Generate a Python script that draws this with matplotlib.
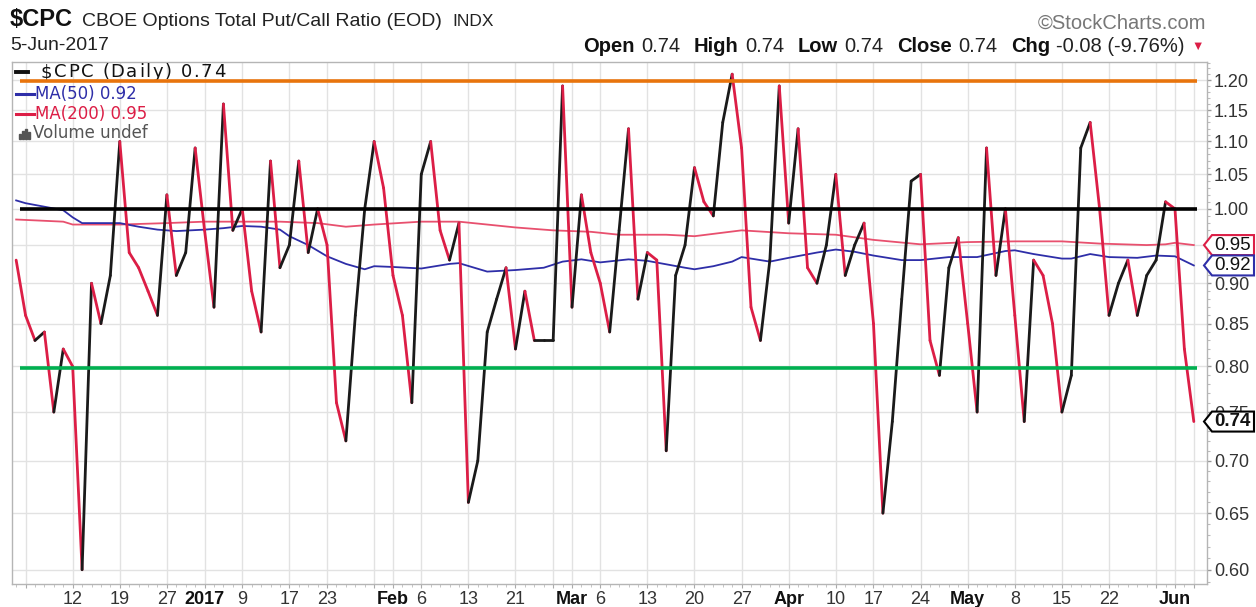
import numpy as np
import pandas as pd
import matplotlib
matplotlib.use('Agg')
import matplotlib.pyplot as plt
from matplotlib.collections import LineCollection
from matplotlib.patches import Polygon, Rectangle
from matplotlib.lines import Line2D
from matplotlib.ticker import FixedLocator, FuncFormatter, NullFormatter

plt.rcParams['font.family'] = ['Liberation Sans', 'DejaVu Sans']

# ---------------- data ----------------
holidays = ['2016-12-26', '2017-01-02', '2017-01-16', '2017-02-20', '2017-04-14', '2017-05-29']
dec_2016 = [0.93, 0.86, 0.83, 0.84, 0.75, 0.82, 0.80, 0.60, 0.90, 0.85, 0.91, 1.10, 0.94, 0.92,
            0.89, 0.86, 1.02, 0.91, 0.94, 1.09]
jan_2017 = [0.97, 0.87, 1.16, 0.97, 1.00, 0.89, 0.84, 1.07, 0.92, 0.95, 1.07, 0.94, 1.00, 0.95,
            0.76, 0.72, 0.86, 1.00, 1.10, 1.03]
feb_2017 = [0.91, 0.86, 0.76, 1.05, 1.10, 0.97, 0.93, 0.98, 0.66, 0.70, 0.84, 0.88, 0.92, 0.82,
            0.89, 0.83, 0.83, 0.83, 1.19]
mar_2017 = [0.87, 1.02, 0.94, 0.90, 0.84, 0.97, 1.12, 0.88, 0.94, 0.93, 0.71, 0.91, 0.95, 1.06,
            1.01, 0.99, 1.13, 1.21, 1.09, 0.87, 0.83, 0.93, 1.19]
apr_2017 = [0.98, 1.12, 0.92, 0.90, 0.95, 1.05, 0.91, 0.95, 0.98, 0.85, 0.65, 0.74, 0.88, 1.04,
            1.05, 0.83, 0.79, 0.92, 0.96]
may_2017 = [0.85, 0.75, 1.09, 0.91, 1.00, 0.86, 0.74, 0.93, 0.91, 0.85, 0.75, 0.79, 1.09, 1.13,
            1.00, 0.86, 0.90, 0.93, 0.86, 0.91, 0.93, 1.01]
jun_2017 = [1.00, 0.82, 0.74]

ma50_dates = ['12-02', '12-05', '12-07', '12-09', '12-12', '12-13', '12-16', '12-19', '12-21', '12-23',
              '12-28', '01-03', '01-05', '01-09', '01-11', '01-13', '01-17', '01-19', '01-23', '01-25',
              '01-27', '01-30', '02-01', '02-06', '02-09', '02-10', '02-15', '02-21', '02-24', '02-28',
              '03-02', '03-06', '03-09', '03-13', '03-17', '03-20', '03-22', '03-24', '03-27', '03-30',
              '04-03', '04-06', '04-10', '04-12', '04-17', '04-20', '04-24', '04-27', '05-02', '05-05',
              '05-08', '05-10', '05-15', '05-16', '05-18', '05-22', '05-25', '05-30', '06-01', '06-05']
ma50_values = [1.012, 1.008, 1.003, 0.998, 0.988, 0.980, 0.980, 0.980, 0.975, 0.971,
               0.969, 0.971, 0.973, 0.976, 0.975, 0.971, 0.962, 0.950, 0.935, 0.925,
               0.918, 0.922, 0.921, 0.919, 0.925, 0.926, 0.915, 0.917, 0.920, 0.928,
               0.931, 0.927, 0.931, 0.929, 0.920, 0.918, 0.922, 0.928, 0.934, 0.928,
               0.933, 0.940, 0.944, 0.941, 0.936, 0.930, 0.930, 0.934, 0.934, 0.942,
               0.943, 0.938, 0.932, 0.932, 0.938, 0.934, 0.933, 0.936, 0.935, 0.923]

ma200_dates = ['12-02', '12-09', '12-12', '12-19', '12-27', '01-03', '01-13', '01-20', '01-25', '01-30',
               '02-06', '02-10', '02-15', '02-21', '02-27', '03-03', '03-08', '03-15', '03-20', '03-27',
               '04-03', '04-10', '04-17', '04-24', '05-01', '05-08', '05-15', '05-19', '05-26', '05-31',
               '06-01', '06-05']
ma200_values = [0.985, 0.982, 0.978, 0.978, 0.980, 0.982, 0.982, 0.980, 0.975, 0.978,
                0.982, 0.982, 0.978, 0.974, 0.970, 0.968, 0.964, 0.964, 0.962, 0.970,
                0.966, 0.964, 0.957, 0.951, 0.954, 0.955, 0.955, 0.952, 0.950, 0.951,
                0.953, 0.950]

grid_dates = ['12-05', '12-12', '12-19', '12-27', '01-03', '01-09', '01-17', '01-23', '01-30', '02-01',
              '02-06', '02-13', '02-21', '02-27', '03-01', '03-06', '03-13', '03-20', '03-27', '04-03',
              '04-10', '04-17', '04-24', '05-01', '05-08', '05-15', '05-22', '05-30', '06-01', '06-05']
grid_labels = ['', '12', '19', '27', '2017', '9', '17', '23', '', 'Feb',
               '6', '13', '21', '', 'Mar', '6', '13', '20', '27', 'Apr',
               '10', '17', '24', 'May', '8', '15', '22', '', 'Jun', '']
bold_labels = ['2017', 'Feb', 'Mar', 'Apr', 'May', 'Jun']

y_ticks = [0.60, 0.65, 0.70, 0.75, 0.80, 0.85, 0.90, 0.95, 1.00, 1.05, 1.10, 1.15, 1.20]
ref_levels = [1.198, 1.0, 0.798]
ref_colors = ['#E8740C', '#000000', '#00B050']

# ---------------- helpers ----------------
W, H = 1256, 607
values = np.array(dec_2016 + jan_2017 + feb_2017 + mar_2017 + apr_2017 + may_2017 + jun_2017)
dates = [d for d in pd.bdate_range('2016-12-02', '2017-06-05') if d.strftime('%Y-%m-%d') not in holidays]
pos = {d.strftime('%m-%d'): i for i, d in enumerate(dates)}
x = np.arange(len(values))


def fx(px):
    return px / W


def fy(py):
    return 1 - py / H


RED = '#DC1E46'
BLUE = '#2E2EA8'
MA200C = '#E8506E'

fig = plt.figure(figsize=(W / 100, H / 100), dpi=100)
ax = fig.add_axes([fx(12), fy(584), fx(1207) - fx(12), fy(62) - fy(584)])
renderer = fig.canvas.get_renderer()

# grid
for gd in grid_dates:
    ax.axvline(pos[gd], color='#E2E2E2', lw=1.0, zorder=0)
for yv in y_ticks:
    ax.axhline(yv, color='#E2E2E2', lw=1.0, zorder=0)

# moving averages
ax.plot([pos[d] for d in ma200_dates], ma200_values, color=MA200C, lw=1.3, zorder=2)
ax.plot([pos[d] for d in ma50_dates], ma50_values, color=BLUE, lw=1.3, zorder=2)

# price line, coloured by direction
segs = np.stack([np.column_stack([x[:-1], values[:-1]]), np.column_stack([x[1:], values[1:]])], axis=1)
cols = ['#1A1A1A' if values[i + 1] >= values[i] else RED for i in range(len(values) - 1)]
lc = LineCollection(segs, colors=cols, linewidths=2.0, zorder=3, capstyle='round', joinstyle='round')
ax.add_collection(lc)

# reference lines
x0_ref = -0.44 + (20 - 12) / 9.42
x1_ref = -0.44 + (1197 - 12) / 9.42
for lvl, c in zip(ref_levels, ref_colors):
    ax.plot([x0_ref, x1_ref], [lvl, lvl], color=c, lw=2.6, zorder=4, solid_capstyle='butt')

ax.set_yscale('log')
ax.set_ylim(0.588, 1.231)
ax.set_xlim(-0.44, 126.4)

ax.yaxis.tick_right()
ax.yaxis.set_major_locator(FixedLocator(y_ticks))
ax.yaxis.set_major_formatter(FuncFormatter(lambda v, p: f'{v:.2f}'))
ax.yaxis.set_minor_locator(FixedLocator(np.arange(0.59, 1.235, 0.01)))
ax.yaxis.set_minor_formatter(NullFormatter())
ax.tick_params(axis='y', which='major', length=3, width=1, color='#999999', labelsize=13,
               labelcolor='#333333', pad=2)
ax.tick_params(axis='y', which='minor', length=2, width=0.8, color='#BBBBBB')

ax.set_xticks([pos[d] for d in grid_dates])
ax.set_xticklabels(grid_labels)
ax.xaxis.set_minor_locator(FixedLocator(x))
ax.tick_params(axis='x', which='major', length=3, color='#AAAAAA', labelsize=13, labelcolor='#333333', pad=2)
ax.tick_params(axis='x', which='minor', length=2, color='#BBBBBB')
for t in ax.get_xticklabels():
    if t.get_text() in bold_labels:
        t.set_fontweight('bold')
        t.set_color('#111111')

for s in ax.spines.values():
    s.set_color('#B5B5B5')
    s.set_linewidth(1.0)

# ---------------- header ----------------
fig.text(fx(10), fy(20), '$CPC', fontsize=17, fontweight='bold', color='#111111', va='center', ha='left')
fig.text(fx(82), fy(21), 'CBOE Options Total Put/Call Ratio (EOD)', fontsize=14, color='#222222',
         va='center', ha='left')
fig.text(fx(452), fy(21), 'INDX', fontsize=12.5, color='#222222', va='center', ha='left')
fig.text(fx(10), fy(46), '5-Jun-2017', fontsize=14, color='#222222', va='center', ha='left')
fig.text(fx(1206), fy(23), '\u00a9StockCharts.com', fontsize=14.5, color='#777777', va='center', ha='right')

parts = [('Open', 'bold', '#111111', 6, 14.5), ('0.74', 'normal', '#222222', 14, 14.5),
         ('High', 'bold', '#111111', 6, 14.5), ('0.74', 'normal', '#222222', 14, 14.5),
         ('Low', 'bold', '#111111', 6, 14.5), ('0.74', 'normal', '#222222', 14, 14.5),
         ('Close', 'bold', '#111111', 6, 14.5), ('0.74', 'normal', '#222222', 14, 14.5),
         ('Chg', 'bold', '#111111', 6, 14.5), ('-0.08 (-9.76%)', 'normal', '#222222', 7, 14.5),
         ('\u25bc', 'normal', RED, 0, 9)]
items = []
for s, w, c, gap, fs in parts:
    t = fig.text(0, fy(47), s, fontsize=fs, fontweight=w, color=c, va='center', ha='left')
    bb = t.get_window_extent(renderer)
    items.append((t, bb.width, gap))
total = sum(wd + g for _, wd, g in items)
xp = 1204 - total
for t, wd, g in items:
    t.set_x(fx(xp))
    xp += wd + g


# ---------------- legend (inside plot) ----------------
def spaced_text(s, x0, yy, fs, color, extra):
    xc = x0
    for ch in s:
        t = ax.text(fx(xc), fy(yy), ch, fontsize=fs, color=color, family=['DejaVu Sans'], va='center',
                    ha='left', transform=fig.transFigure, zorder=3.5)
        wd = t.get_window_extent(renderer).width if ch != ' ' else fs * 1.389 * 0.318
        xc += wd + extra


ax.add_line(Line2D([fx(16), fx(28)], [fy(72), fy(72)], color='#111111', lw=2.8,
                   transform=fig.transFigure, zorder=3.5, clip_on=False))
spaced_text('$CPC (Daily) 0.74', 41, 72, 13, '#111111', 1.6)

leg = [('MA(50) 0.92', BLUE, 94), ('MA(200) 0.95', RED, 114)]
for s, c, yy in leg:
    ax.add_line(Line2D([fx(16), fx(34)], [fy(yy), fy(yy)], color=c, lw=2.2, transform=fig.transFigure,
                       zorder=3.5, clip_on=False))
    ax.text(fx(35), fy(yy), s, fontsize=12, color=c, family=['DejaVu Sans'], va='center', ha='left',
            transform=fig.transFigure, zorder=3.5)
for i, hgt in enumerate([5, 8, 10, 7]):
    ax.add_patch(Rectangle((fx(19 + i * 3), fy(139)), fx(2), hgt / H, color='#555555',
                           transform=fig.transFigure, zorder=3.5, clip_on=False))
ax.text(fx(33), fy(133), 'Volume undef', fontsize=12, color='#555555', family=['DejaVu Sans'],
        va='center', ha='left', transform=fig.transFigure, zorder=3.5)

# ---------------- value tags ----------------
tags = [(ma200_values[-1], RED, 'normal'), (ma50_values[-1], BLUE, 'normal'), (values[-1], '#000000', 'bold')]
for v, c, w in tags:
    yd = ax.transData.transform((0, v))[1]
    yc = H - yd
    pts = [(1204, yc), (1212, yc - 10), (1254, yc - 10), (1254, yc + 10), (1212, yc + 10)]
    poly = Polygon([(fx(a), fy(b)) for a, b in pts], closed=True, facecolor='white', edgecolor=c,
                   lw=1.5, transform=fig.transFigure, zorder=10)
    fig.add_artist(poly)
    fig.text(fx(1214), fy(yc), f'{v:.2f}', fontsize=13.5, fontweight=w, color='#111111',
             va='center', ha='left', zorder=11)

fig.savefig('out.png', dpi=100)
